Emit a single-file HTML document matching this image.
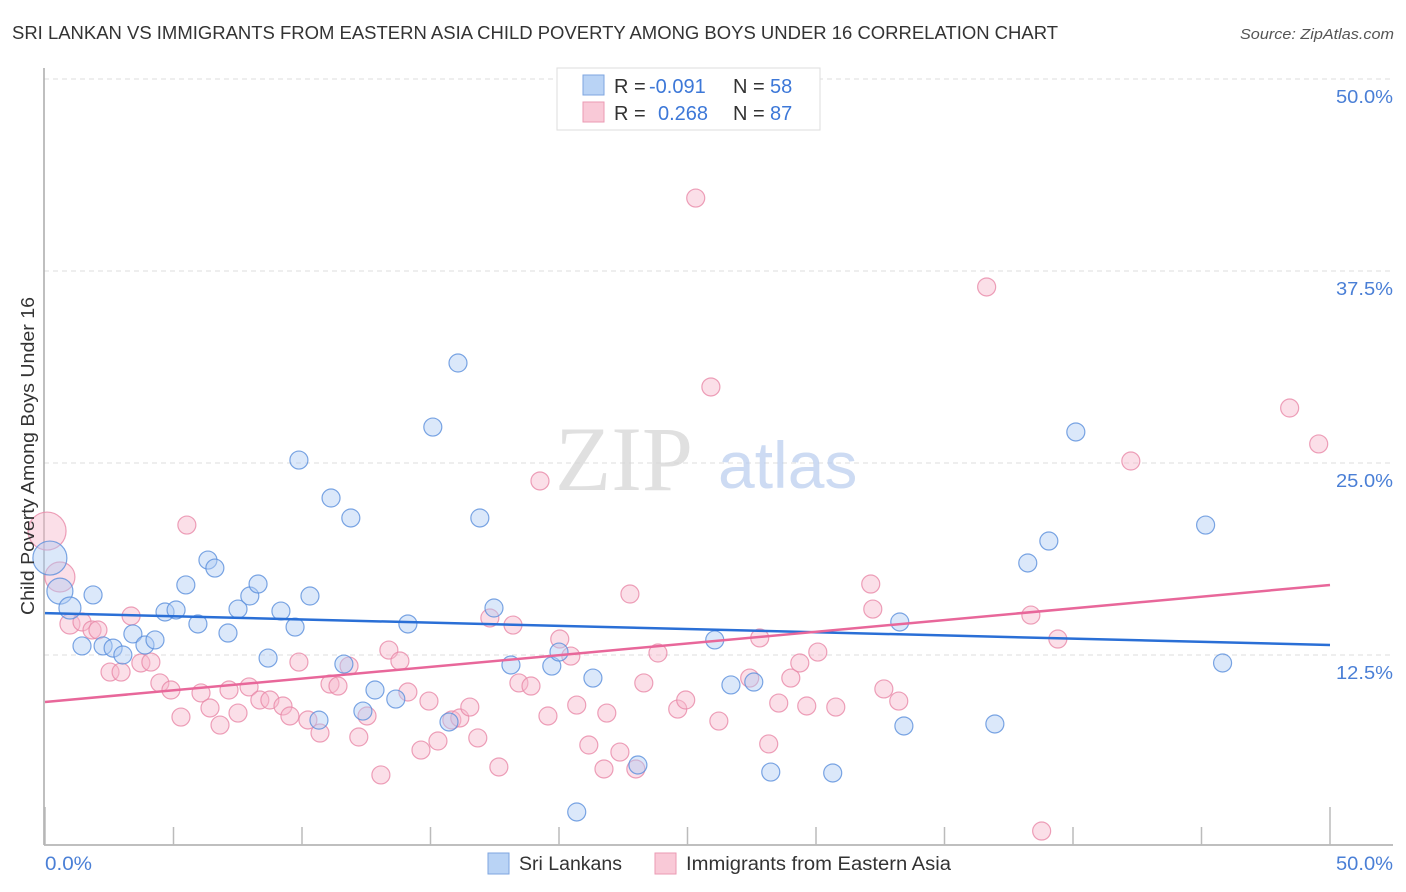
<!DOCTYPE html>
<html><head><meta charset="utf-8">
<style>
body{margin:0;background:#fff;font-family:"Liberation Sans",sans-serif;}
svg{display:block}
</style></head>
<body>
<svg id="chart" width="1406" height="892" viewBox="0 0 1406 892" xmlns="http://www.w3.org/2000/svg">
<text x="12" y="39" font-size="18" fill="#333" textLength="1046" lengthAdjust="spacingAndGlyphs">SRI LANKAN VS IMMIGRANTS FROM EASTERN ASIA CHILD POVERTY AMONG BOYS UNDER 16 CORRELATION CHART</text>
<text x="1394" y="39" font-size="15" fill="#555" font-style="italic" text-anchor="end" textLength="154" lengthAdjust="spacingAndGlyphs">Source: ZipAtlas.com</text>
<g id="grid"></g>
<g>
<text x="555" y="490" font-size="92" fill="#d9d9d9" font-family="Liberation Serif, serif" opacity="0.8">ZIP</text>
<text x="718" y="488" font-size="66" fill="#b8cdee" opacity="0.7">atlas</text>
</g>
<line x1="44" y1="68" x2="44" y2="845" stroke="#aaa" stroke-width="1.5"/>
<line x1="44" y1="845" x2="1393" y2="845" stroke="#aaa" stroke-width="1.5"/>
<g id="ticks"></g>
<g id="pts"></g>
<g id="trends"></g>
<text transform="translate(34,456) rotate(-90)" font-size="18" fill="#333" text-anchor="middle" textLength="318" lengthAdjust="spacingAndGlyphs">Child Poverty Among Boys Under 16</text>
<text x="45" y="870" font-size="19" fill="#4a7fd6" textLength="47" lengthAdjust="spacingAndGlyphs">0.0%</text>
<text x="1393" y="870" font-size="19" fill="#4a7fd6" text-anchor="end" textLength="57" lengthAdjust="spacingAndGlyphs">50.0%</text>
<g>
<rect x="557" y="68" width="263" height="62" fill="#fff" stroke="#ddd"/>
<rect x="583" y="75" width="21" height="20" fill="#b9d3f5" stroke="#7ea6e0"/>
<rect x="583" y="102" width="21" height="20" fill="#f9c9d7" stroke="#eb9ab3"/>
<text x="614" y="93" font-size="20" fill="#333">R = <tspan x="649" fill="#3d78d8">-0.091</tspan><tspan x="733">N = </tspan><tspan x="770" fill="#3d78d8">58</tspan></text>
<text x="614" y="120" font-size="20" fill="#333">R = <tspan x="658" fill="#3d78d8">0.268</tspan><tspan x="733">N = </tspan><tspan x="770" fill="#3d78d8">87</tspan></text>
</g>
<g>
<rect x="488" y="853" width="21" height="21" fill="#b9d3f5" stroke="#7ea6e0"/>
<text x="519" y="870" font-size="19" fill="#333" textLength="103" lengthAdjust="spacingAndGlyphs">Sri Lankans</text>
<rect x="655" y="853" width="21" height="21" fill="#f9c9d7" stroke="#eb9ab3"/>
<text x="686" y="870" font-size="19" fill="#333" textLength="265" lengthAdjust="spacingAndGlyphs">Immigrants from Eastern Asia</text>
</g>
</svg>
<script>
const yTicks=[12.5,25,37.5,50];
const yTickLabels=["12.5%","25.0%","37.5%","50.0%"];
const xTicks=[0,5,10,15,20,25,30,35,40,45,50];
const blueX=[0.19,0.58,0.97,1.87,1.44,2.26,2.65,3.03,3.42,3.89,4.28,4.67,5.10,5.48,5.95,6.34,6.61,7.12,7.51,7.97,8.29,8.68,9.18,9.73,9.88,10.31,10.66,11.13,11.63,11.90,12.37,12.84,13.65,14.12,15.09,15.72,16.07,16.92,17.47,18.13,19.72,20.00,21.32,20.69,23.07,26.06,26.69,27.58,28.24,30.65,33.26,33.42,36.96,38.24,39.06,40.11,45.16,45.82];
const blueY=[18.81,16.66,15.56,16.41,13.09,13.09,12.95,12.50,13.87,13.15,13.48,15.30,15.43,17.06,14.52,18.68,18.16,13.93,15.49,16.34,17.12,12.30,15.36,14.32,25.19,16.34,8.26,22.72,11.91,21.42,8.85,10.22,9.63,14.52,27.34,8.14,31.51,21.42,15.56,11.85,11.78,12.69,11.00,2.28,5.34,13.48,10.55,10.74,4.88,4.82,14.65,7.88,8.01,18.49,19.92,27.02,20.96,11.98];
const blueW=[17,13,11];
const pinkX=[0.08,0.58,0.97,1.44,1.83,2.06,2.53,2.96,3.35,3.73,4.12,4.47,4.90,5.29,5.52,6.07,6.42,6.81,7.16,7.51,7.94,8.36,8.75,9.26,9.53,9.88,10.23,10.70,11.09,11.40,11.83,12.21,12.53,13.07,13.38,13.81,14.12,14.63,14.94,15.29,15.83,16.14,16.53,16.84,17.31,17.66,18.21,18.44,18.91,19.26,19.57,20.03,20.46,20.69,21.16,21.75,21.86,22.37,22.76,22.99,23.30,23.85,24.62,24.93,25.32,25.91,26.22,27.42,27.81,28.16,28.55,29.02,29.37,29.64,30.07,30.77,32.13,32.21,32.64,33.22,36.64,38.36,38.78,39.41,42.25,48.43,49.56];
const pinkY=[20.57,17.58,14.52,14.65,14.13,14.13,11.39,11.39,15.04,11.98,12.04,10.68,10.22,8.46,20.96,10.03,9.05,7.94,10.22,8.72,10.42,9.57,9.57,9.18,8.53,12.04,8.27,7.42,10.61,10.48,11.78,7.16,8.53,4.69,12.82,12.11,10.09,6.31,9.50,6.90,8.27,8.40,9.11,7.10,14.91,5.21,14.45,10.68,10.48,23.83,8.53,13.54,12.43,9.24,6.64,5.08,8.72,6.18,16.47,5.08,10.68,12.63,8.98,9.57,42.25,29.95,8.20,11.00,13.61,6.71,9.37,11.00,11.98,9.18,12.69,9.11,17.12,15.49,10.29,9.50,36.46,15.10,1.04,13.54,25.13,28.58,26.24];
const pinkW=[19,15,10];
const blueTrend=[15.23,13.15];
const pinkTrend=[9.44,17.06];
const NS="http://www.w3.org/2000/svg";
function sx(v){return 45+v/50*1285;}
function sy(v){return 847-v/12.5*192;}
function mk(tag,attrs,parent){const e=document.createElementNS(NS,tag);for(const k in attrs)e.setAttribute(k,attrs[k]);parent.appendChild(e);return e;}
const grid=document.getElementById('grid');
yTicks.forEach((t,i)=>{
  const l=mk('line',{x1:44,x2:1393,y1:sy(t),y2:sy(t),stroke:'#ddd','stroke-dasharray':'5,4'},grid);
  
  
  const tx=mk('text',{x:1393,y:sy(t)+24,'font-size':18.5,fill:'#4a7fd6','text-anchor':'end',textLength:57,lengthAdjust:'spacingAndGlyphs'},grid);
  tx.textContent=yTickLabels[i];
  
  
});
const tk=document.getElementById('ticks');
xTicks.forEach((t,i)=>{
  const big=(i==0||i==xTicks.length-1);
  const l=mk('line',{x1:sx(t),x2:sx(t),y1:big?807:827,y2:845,stroke:'#bbb','stroke-width':1.5},tk);
  
  
});
const pts=document.getElementById('pts');
function drawSeries(X,Y,W,fill,stroke,name){
  X.forEach((x,i)=>{
    const c=mk('circle',{cx:sx(x),cy:sy(Y[i]),r:W[i]||9,fill:fill,'fill-opacity':0.45,stroke:stroke,'stroke-width':1.2,'stroke-opacity':0.8},pts);
    
    
  });
}
drawSeries(pinkX,pinkY,pinkW,'#f6b8cb','#e888a8','point-immigrants');
drawSeries(blueX,blueY,blueW,'#b0cdf3','#5a8fdc','point-sri-lankans');
const tr=document.getElementById('trends');
const bl=mk('line',{x1:sx(0),y1:sy(blueTrend[0]),x2:sx(50),y2:sy(blueTrend[1]),stroke:'#2a6fd6','stroke-width':2.5},tr);


const pl=mk('line',{x1:sx(0),y1:sy(pinkTrend[0]),x2:sx(50),y2:sy(pinkTrend[1]),stroke:'#e8679a','stroke-width':2.5},tr);


</script>
</body></html>
